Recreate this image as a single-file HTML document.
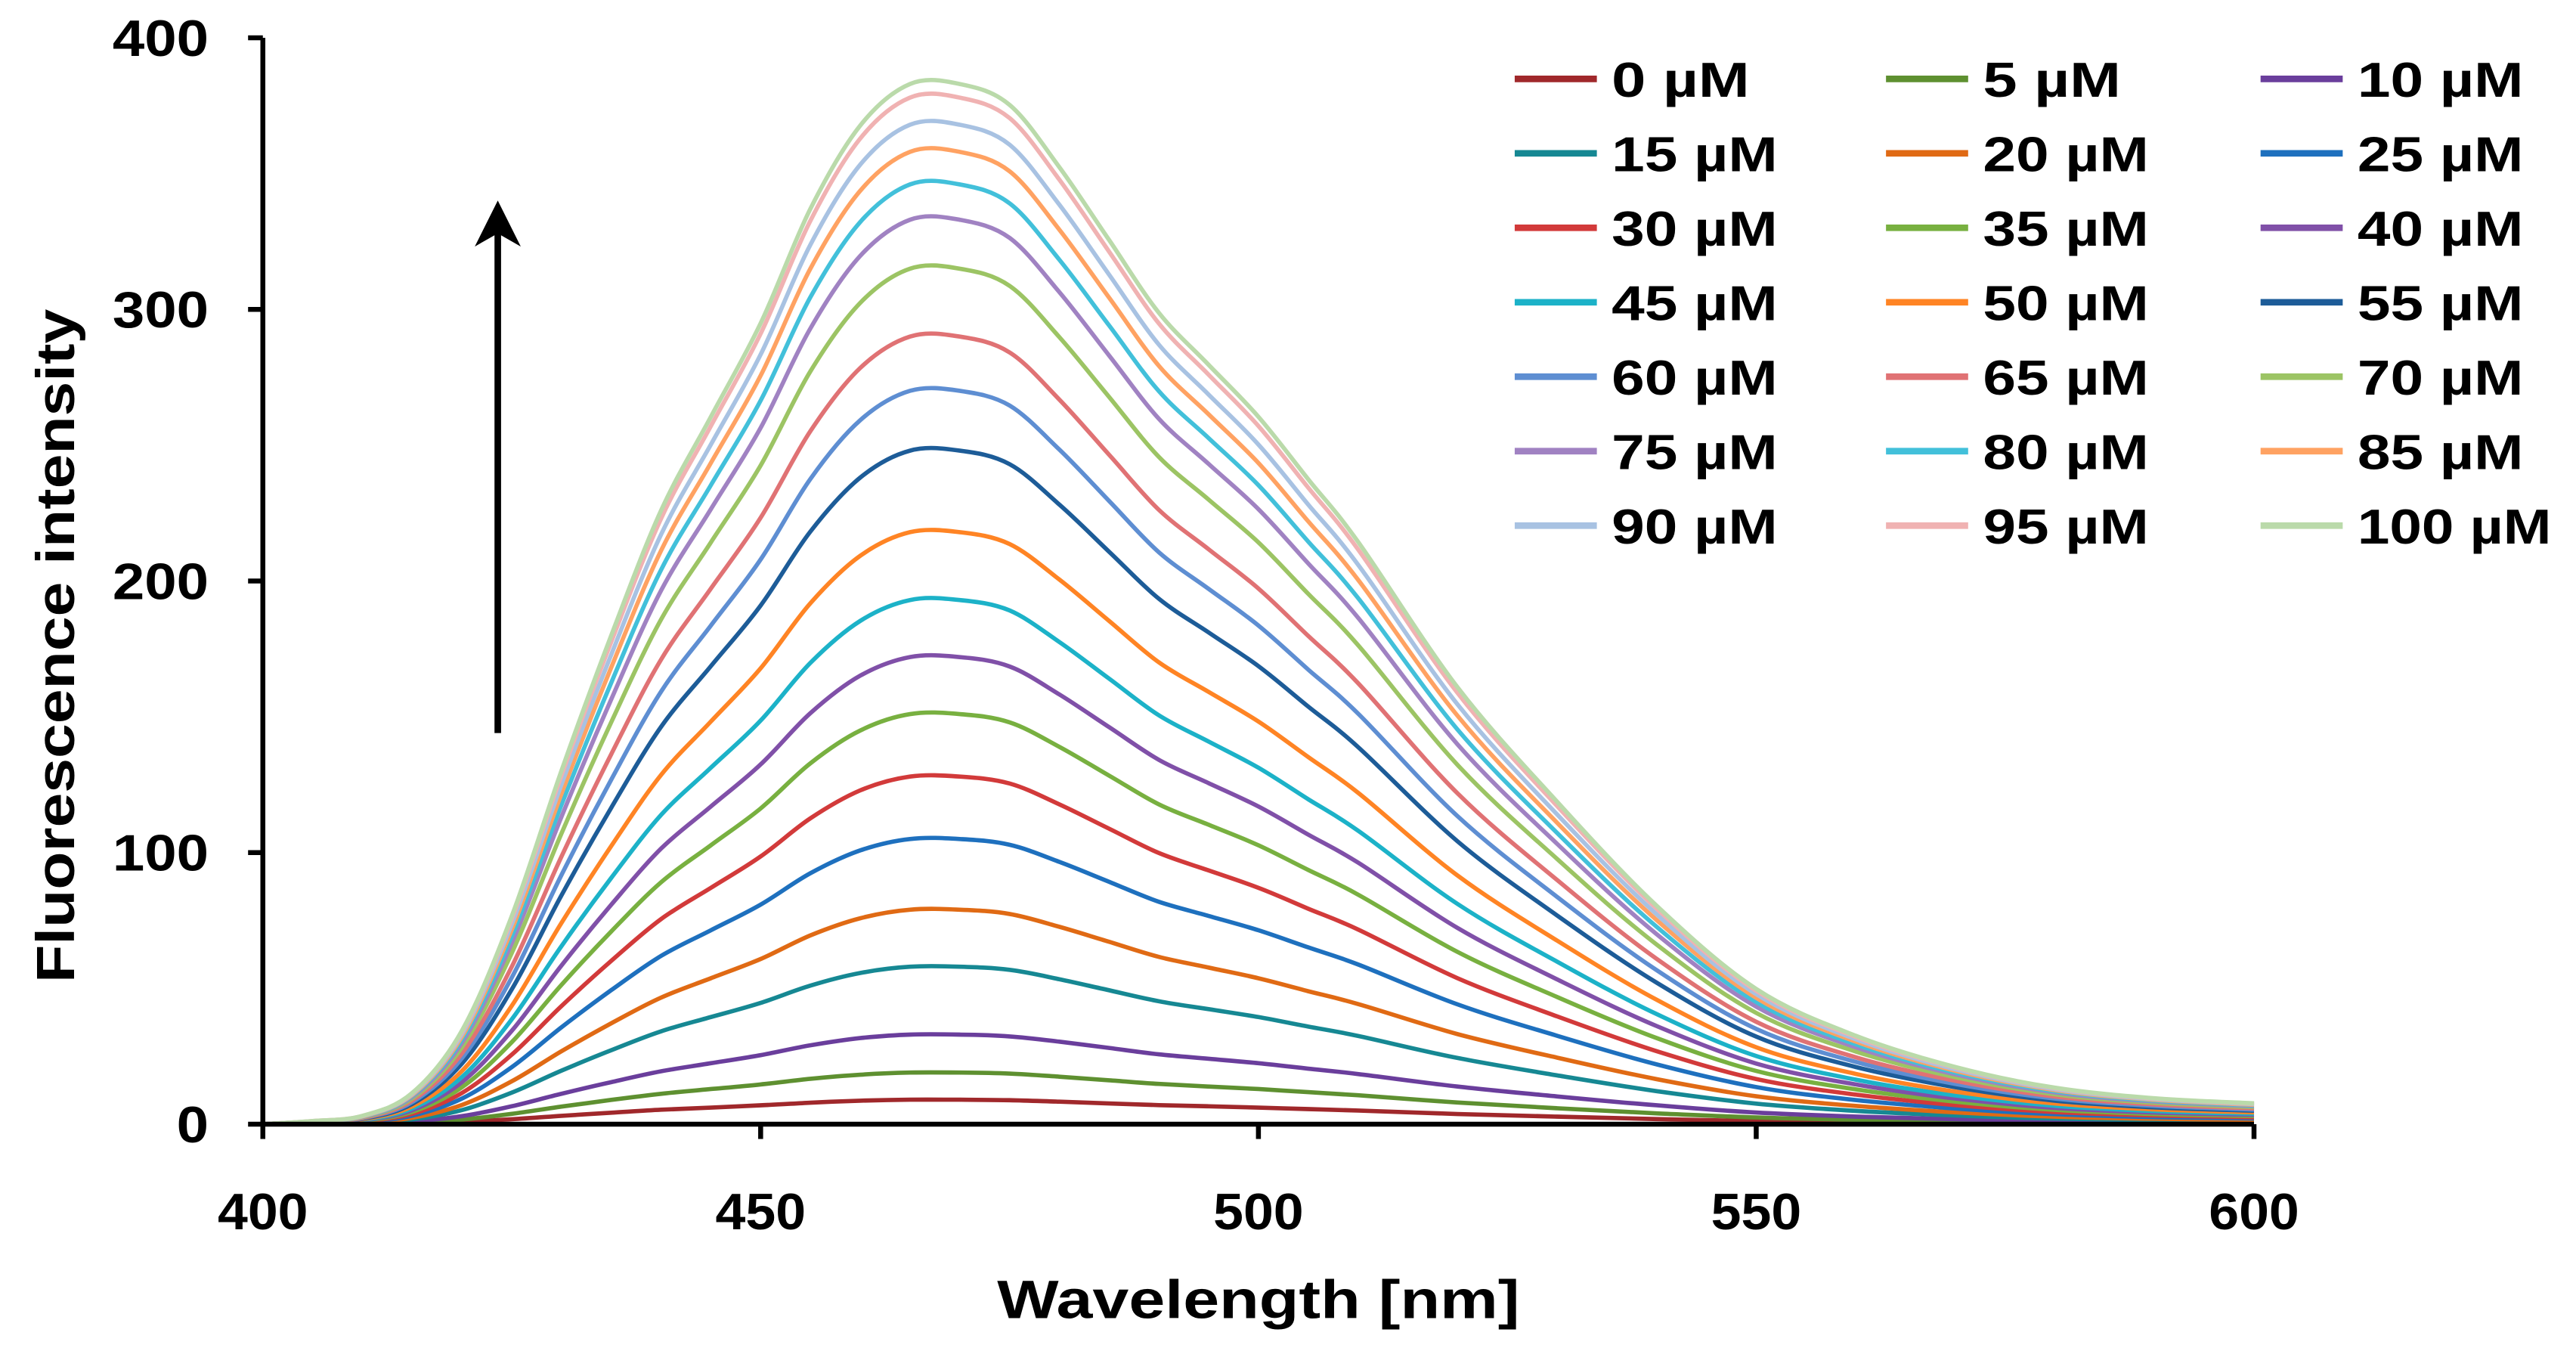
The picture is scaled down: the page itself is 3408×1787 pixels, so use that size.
<!DOCTYPE html>
<html><head><meta charset="utf-8"><style>html,body{margin:0;padding:0;background:#fff}svg{display:block}</style></head>
<body>
<svg id="chart" width="3408" height="1787" viewBox="0 0 1568 822" preserveAspectRatio="none" xmlns="http://www.w3.org/2000/svg" font-family="'Liberation Sans', sans-serif" font-weight="bold">
<g id="series"></g>
<g id="axes"></g>
<g id="legend"></g>
<g>
<line x1="303" y1="446" x2="303" y2="140" stroke="#000" stroke-width="4"/>
<polygon points="289,150 303,122 317,150 303,142" fill="#000"/>
</g>
</svg>
<script>
const wavelengths = [400,405,410,415,420,425,430,435,440,445,450,455,460,465,470,475,480,485,490,495,500,505,510,520,530,540,550,560,570,580,590,600];
const profile = [0,0.003,0.008,0.03,0.09,0.2,0.34,0.47,0.59,0.68,0.77,0.88,0.96,1.0,1.0,0.98,0.92,0.85,0.78,0.73,0.68,0.62,0.56,0.42,0.31,0.21,0.13,0.085,0.055,0.035,0.025,0.02];
const concentrations = [0,5,10,15,20,25,30,35,40,45,50,55,60,65,70,75,80,85,90,95,100];
const peaks = [9,19,33,58,79,105,128,151,172,193,218,248,270,290,315,333,346,358,368,378,383];
const colors = ["#A0282B","#5E9030","#6A3E9C","#168893","#E06A14","#1E70BE","#D23A3A","#78B040","#8050A8","#1CB2C8","#FF8424","#1D5C98","#5E8ED2","#E07274","#9CC464","#A082C2","#42C0DA","#FFA262","#A8C2E2","#F0B2B2","#BADAAA"];
const xTicks = [400,450,500,550,600];
const yTicks = [0,100,200,300,400];

const X0=160, X1=1372, Y0=684, Y1=23;
const xs = w => X0 + (w-400)/(600-400)*(X1-X0);
const ys = v => Y0 - v/400*(Y0-Y1);
const NS="http://www.w3.org/2000/svg";
function mk(tag, attrs, parent){const e=document.createElementNS(NS,tag);for(const k in attrs)e.setAttribute(k,attrs[k]);parent.appendChild(e);return e;}
function smooth(pts){
  let d='M'+pts[0][0].toFixed(1)+','+pts[0][1].toFixed(1);
  for(let i=0;i<pts.length-1;i++){
    const p0=pts[Math.max(i-1,0)],p1=pts[i],p2=pts[i+1],p3=pts[Math.min(i+2,pts.length-1)];
    const c1=[p1[0]+(p2[0]-p0[0])/6,p1[1]+(p2[1]-p0[1])/6];
    const c2=[p2[0]-(p3[0]-p1[0])/6,p2[1]-(p3[1]-p1[1])/6];
    d+='C'+c1[0].toFixed(1)+','+c1[1].toFixed(1)+' '+c2[0].toFixed(1)+','+c2[1].toFixed(1)+' '+p2[0].toFixed(1)+','+p2[1].toFixed(1);
  }
  return d;
}

const sg=document.getElementById('series');
concentrations.forEach((c,i)=>{
  const pts=wavelengths.map((w,j)=>[xs(w),ys(peaks[i]*profile[j])]);
  const p=mk('path',{d:smooth(pts),fill:'none',stroke:colors[i],'stroke-width':2.6,'stroke-linejoin':'round'},sg);
  
  
});

const ax=document.getElementById('axes');
const yl=mk('line',{x1:X0,y1:Y1,x2:X0,y2:Y0,stroke:'#000','stroke-width':3},ax);


const xl=mk('line',{x1:X0,y1:Y0,x2:X1,y2:Y0,stroke:'#000','stroke-width':3},ax);


yTicks.forEach(v=>{
  mk('line',{x1:X0-9,y1:ys(v),x2:X0,y2:ys(v),stroke:'#000','stroke-width':3},ax);
  const t=mk('text',{x:127,y:ys(v)+11,'text-anchor':'end','font-size':31,textLength:String(v).length*19.5,lengthAdjust:'spacingAndGlyphs'},ax);
  t.textContent=v;
  
  
});
xTicks.forEach(w=>{
  mk('line',{x1:xs(w),y1:Y0,x2:xs(w),y2:Y0+9,stroke:'#000','stroke-width':3},ax);
  const t=mk('text',{x:xs(w),y:748,'text-anchor':'middle','font-size':31,textLength:55,lengthAdjust:'spacingAndGlyphs'},ax);
  t.textContent=w;
  
  
});
const xt=mk('text',{x:766,y:802,'text-anchor':'middle','font-size':33,textLength:318,lengthAdjust:'spacingAndGlyphs'},ax);
xt.textContent='Wavelength [nm]';


const yt=mk('text',{x:0,y:0,'text-anchor':'middle','font-size':33,textLength:410,lengthAdjust:'spacingAndGlyphs',transform:'translate(45,393) rotate(-90)'},ax);
yt.textContent='Fluorescence intensity';



const lg=document.getElementById('legend');
const colX=[922,1148,1376];
concentrations.forEach((c,i)=>{
  const col=i%3,row=Math.floor(i/3);
  const y=48+row*45.3;
  const g=mk('g',{},lg);
  
  
  mk('line',{x1:colX[col],y1:y,x2:colX[col]+50,y2:y,stroke:colors[i],'stroke-width':4},g);
  const label=c+' µM';
  const t=mk('text',{x:colX[col]+59,y:y+11,'font-size':30,textLength:(label.length-3)*17+67,lengthAdjust:'spacingAndGlyphs'},g);
  t.textContent=label;
});
</script>
</body></html>
